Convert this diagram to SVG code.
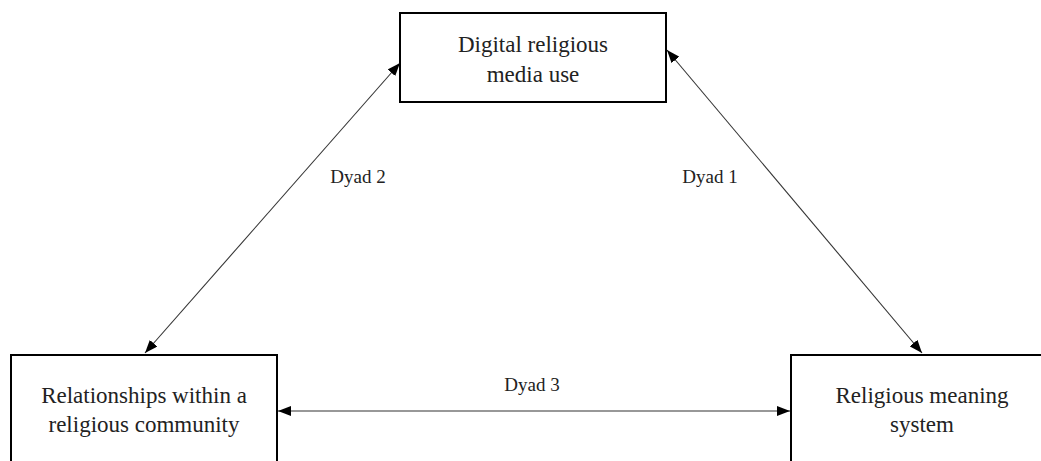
<svg xmlns="http://www.w3.org/2000/svg" width="1041" height="461" viewBox="0 0 1041 461">
<defs>
<style>
.box{fill:#fff;stroke:#000;stroke-width:2}
.t{font-family:"Liberation Serif","Times New Roman",serif;font-size:23px;fill:#222;text-anchor:middle}
.l{font-family:"Liberation Serif","Times New Roman",serif;font-size:19px;fill:#222;text-anchor:middle}
.c{stroke:#333;stroke-width:1.1;fill:none;marker-start:url(#ah);marker-end:url(#ah)}
</style>
<marker id="ah" markerUnits="userSpaceOnUse" markerWidth="14" markerHeight="10" refX="13" refY="5" orient="auto-start-reverse">
<path d="M0,0 L13,5 L0,10 z" fill="#000"/>
</marker>
</defs>
<rect width="1041" height="461" fill="#fff"/>
<g id="connectors">
<line class="c" x1="145" y1="353" x2="400" y2="63"/>
<line class="c" x1="667" y1="50" x2="922" y2="353"/>
<line class="c" x1="278" y1="411" x2="790" y2="411"/>
<text class="l" x="358" y="183">Dyad 2</text>
<text class="l" x="710" y="183">Dyad 1</text>
<text class="l" x="532" y="391">Dyad 3</text>
</g>
<g id="node-digital">
<rect class="box" x="400" y="13" width="266" height="89"/>
<text class="t" x="533" y="52">Digital religious</text>
<text class="t" x="533" y="82">media use</text>
</g>
<g id="node-relationships">
<rect class="box" x="11" y="355" width="266" height="120"/>
<text class="t" x="144" y="403">Relationships within a</text>
<text class="t" x="144" y="432">religious community</text>
</g>
<g id="node-meaning">
<rect class="box" x="791" y="355" width="266" height="120"/>
<text class="t" x="922" y="403">Religious meaning</text>
<text class="t" x="922" y="432">system</text>
</g>
</svg>
